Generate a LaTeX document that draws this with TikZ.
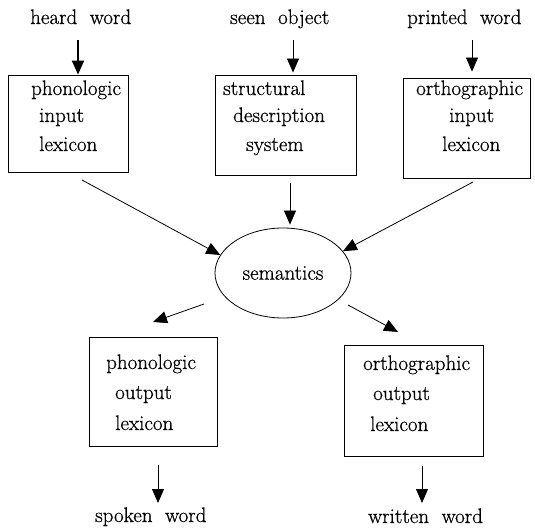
\documentclass[tikz,border=0pt]{standalone}
\usepackage{fontspec}
\setmainfont{Latin Modern Roman}[FakeBold=0.6]
\usetikzlibrary{arrows.meta,shapes.geometric}
\begin{document}
\begin{tikzpicture}[x=1pt,y=-1pt,
  font=\fontsize{21}{24}\selectfont,
  box/.style={draw, line width=0.9pt, inner sep=0pt},
  lbl/.style={anchor=base west, inner sep=0pt},
  arr/.style={line width=0.8pt, -{Triangle[length=14pt,width=12pt]}},
  arrthick/.style={arr, line width=2.2pt}]
\useasboundingbox (0,0) rectangle (535,529);
\fill[white] (0,0) rectangle (535,529);
% top labels
\node[lbl] (heard) at (30,24) {heard\hspace{0.6em}word};
\node[lbl] (seen) at (230,24) {seen\hspace{0.6em}object};
\node[lbl] (printed) at (407,24) {printed\hspace{0.6em}word};
% boxes
\node[box, minimum width=120pt, minimum height=97pt] (b1) at (68,123.5) {};
\node[box, minimum width=141pt, minimum height=100pt] (b2) at (285.5,125) {};
\node[box, minimum width=127pt, minimum height=100pt] (b3) at (466.5,128) {};
\node[box, minimum width=128pt, minimum height=109pt] (b4) at (153,391.5) {};
\node[box, minimum width=139pt, minimum height=111pt] (b5) at (413.5,400.5) {};
% box texts
\node[lbl] (t11) at (31,95) {phonologic};
\node[lbl] (t12) at (39,122) {input};
\node[lbl] (t13) at (39,151) {lexicon};
\node[lbl] (t21) at (223,95) {structural};
\node[lbl] (t22) at (233,122) {description};
\node[lbl] (t23) at (246,151) {system};
\node[lbl] (t31) at (416,95) {orthographic};
\node[lbl] (t32) at (449,122) {input};
\node[lbl] (t33) at (442,151) {lexicon};
\node[lbl] (t41) at (106,369) {phonologic};
\node[lbl] (t42) at (115,399) {output};
\node[lbl] (t43) at (115,430) {lexicon};
\node[lbl] (t51) at (363,370) {orthographic};
\node[lbl] (t52) at (373,400) {output};
\node[lbl] (t53) at (370,431) {lexicon};
% semantics
\node[draw, ellipse, line width=0.8pt, minimum width=136pt, minimum height=90pt, inner sep=0pt] (sem) at (283,273) {semantics};
% bottom labels
\node[lbl] (spoken) at (95,522) {spoken\hspace{0.6em}word};
\node[lbl] (written) at (368,523) {written\hspace{0.6em}word};
% free ends
\coordinate (s1) at (78,40);
\coordinate (s2) at (293,40);
\coordinate (s3) at (472,40);
\coordinate (s4) at (82,180);
\coordinate (s5) at (290,183);
\coordinate (s6) at (473,182);
\coordinate (s7) at (204,304);
\coordinate (e7) at (153,322);
\coordinate (s8) at (348,305);
\coordinate (e8) at (398,332);
\coordinate (s9) at (158,465);
\coordinate (e9) at (158,503);
\coordinate (s10) at (422,466);
\coordinate (e10) at (422,503);
% connectors
\draw[arrthick] (s1) -- (s1 |- b1.north);
\draw[arr, shorten >=2pt] (s2) -- (s2 |- b2.north);
\draw[arr, shorten >=6pt] (s3) -- (s3 |- b3.north);
\draw[arr] (s4) -- (sem.164);
\draw[arr, shorten >=3pt] (s5) -- (s5 |- sem.north);
\draw[arr] (s6) -- (sem.20);
\draw[arr] (s7) -- (e7);
\draw[arr] (s8) -- (e8);
\draw[arr] (s9) -- (e9);
\draw[arr] (s10) -- (e10);
\end{tikzpicture}
\end{document}
